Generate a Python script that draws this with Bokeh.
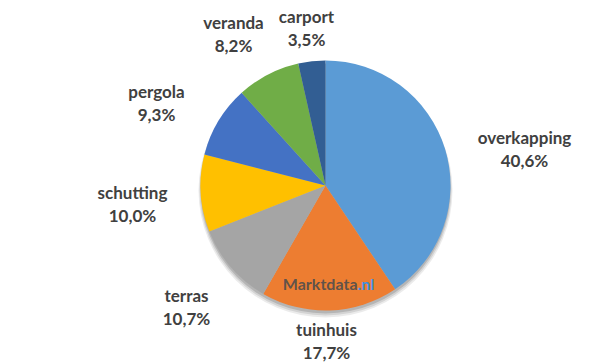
import math
from bokeh.plotting import figure
from bokeh.models import Range1d, ColumnDataSource
from bokeh.core.properties import value
from bokeh.embed import file_html
from bokeh.resources import INLINE

# ---- data ----
categories = ["overkapping", "tuinhuis", "terras", "schutting", "pergola", "veranda", "carport"]
shares = [40.6, 17.7, 10.7, 10.0, 9.3, 8.2, 3.5]
share_labels = ["40,6%", "17,7%", "10,7%", "10,0%", "9,3%", "8,2%", "3,5%"]
colors = ["#5B9BD5", "#ED7D31", "#A5A5A5", "#FFC000", "#4472C4", "#70AD47", "#325E93"]

# ---- layout (screen pixels, y downwards) ----
W, H = 605, 364
CX, CY, R = 325, 185, 125
# label centres (screen px)
label_xy = [(524, 148), (326, 340), (186, 306), (132, 203), (156, 102), (233, 33), (306, 27)]
LINE_GAP = 11.5
TEXT_COLOR = "#404040"
FONT = "Lato"

def fy(y):
    return H - y

total = sum(shares)
starts, ends = [], []
cum = 0.0
for s in shares:
    starts.append(math.pi / 2 - 2 * math.pi * cum / total)
    cum += s
    ends.append(math.pi / 2 - 2 * math.pi * cum / total)

src = ColumnDataSource(dict(cat=categories, start=starts, end=ends, color=colors))

p = figure(width=W, height=H, x_range=Range1d(0, W), y_range=Range1d(0, H),
           x_axis_type=None, y_axis_type=None, toolbar_location=None,
           output_backend="svg", min_border=0)
p.outline_line_color = None
p.grid.visible = False
p.background_fill_color = "white"
p.border_fill_color = "white"

# soft shadow
for off, rr, a in [(5, R + 2, 0.08), (4, R + 1, 0.10), (3, R, 0.14)]:
    p.circle(x=[CX], y=[fy(CY + off)], radius=rr, fill_color="#000000",
             fill_alpha=a, line_color=None)

p.wedge(x=CX, y=fy(CY), radius=R, start_angle="start", end_angle="end",
        direction="clock", fill_color="color", line_color=None, source=src)

# labels
name_x = [xy[0] for xy in label_xy]
name_y = [fy(xy[1] - LINE_GAP) for xy in label_xy]
pct_y = [fy(xy[1] + LINE_GAP) for xy in label_xy]
p.text(x=name_x, y=name_y, text=categories, text_font=value(FONT),
       text_font_style="bold", text_font_size="17px", text_color=TEXT_COLOR,
       text_align="center", text_baseline="middle")
p.text(x=name_x, y=pct_y, text=share_labels, text_font=value(FONT),
       text_font_style="bold", text_font_size="17px", text_color=TEXT_COLOR,
       text_align="center", text_baseline="middle")

# watermark
p.text(x=[357], y=[fy(283)], text=["Marktdata"], text_font=value(FONT),
       text_font_style="bold", text_font_size="16px", text_color="#4d4d4d",
       text_alpha=0.9, text_align="right", text_baseline="middle")
p.text(x=[357], y=[fy(283)], text=[".nl"], text_font=value(FONT),
       text_font_style="bold", text_font_size="16px", text_color="#3d8fdc",
       text_align="left", text_baseline="middle")

open("out.html", "w").write(file_html(p, INLINE))
